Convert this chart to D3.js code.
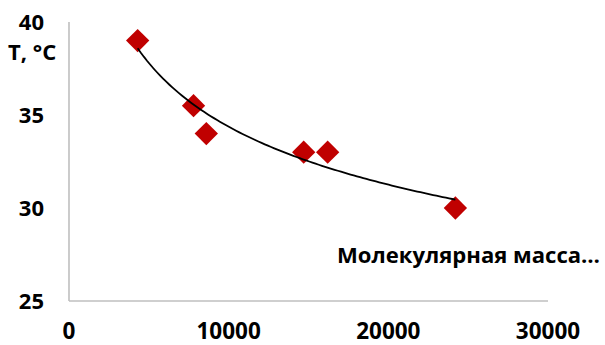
<!DOCTYPE html>
<html><head><meta charset="utf-8">
<script src="https://cdn.jsdelivr.net/npm/d3@7"></script>
<style>body{margin:0;background:#fff}svg{display:block}text{font-family:"Open Sans",sans-serif;font-weight:700;fill:#000}</style>
</head><body><svg id="c" width="605" height="345"></svg>
<script>
const massValues = [4300, 7800, 8600, 14700, 16200, 24200];
const tempValues = [39, 35.5, 34, 33, 33, 30];
const xTicks = [0, 10000, 20000, 30000];
const yTicks = [25, 30, 35, 40];
const yTitle = "T, °C";
const xTitle = "Молекулярная масса…";

const svg = d3.select("#c");
const x = d3.scaleLinear().domain([0, 30000]).range([69, 548]);
const y = d3.scaleLinear().domain([25, 40]).range([301, 22]);

// axes lines
svg.append("line").attr("x1", x(0)).attr("x2", x(0)).attr("y1", y(40)).attr("y2", y(25))
  .attr("stroke", "#bfbfbf").attr("stroke-width", 1.6);
svg.append("line").attr("x1", x(0)).attr("x2", x(30000)).attr("y1", y(25)).attr("y2", y(25))
  .attr("stroke", "#bfbfbf").attr("stroke-width", 1.6);

// tick labels
svg.selectAll(".yt").data(yTicks).join("text").attr("class", "yt")
  .attr("x", 44).attr("y", d => y(d)).attr("dy", "0.35em").attr("text-anchor", "end")
  .attr("font-size", 22).text(d => d);
svg.selectAll(".xt").data(xTicks).join("text").attr("class", "xt")
  .attr("x", d => x(d)).attr("y", 339).attr("text-anchor", "middle")
  .attr("font-size", 22.5).text(d => d);

// titles
svg.append("text").attr("x", 8).attr("y", 52).attr("dy", "0.35em").attr("font-size", 22).text(yTitle);
const tt = svg.append("text").attr("x", 337).attr("y", 255).attr("dy", "0.35em").attr("font-size", 21).text(xTitle);
const w = tt.node().getComputedTextLength();
tt.attr("font-size", 21 * 263 / w);

// power trendline fit
const lx = massValues.map(Math.log), ly = tempValues.map(Math.log);
const mx = d3.mean(lx), my = d3.mean(ly);
const b = d3.sum(lx.map((v, i) => (v - mx) * (ly[i] - my))) / d3.sum(lx.map(v => (v - mx) ** 2));
const a = my - b * mx;
const x0 = d3.min(massValues), x1 = d3.max(massValues);
const curve = d3.range(0, 101).map(i => { const xv = x0 + (x1 - x0) * i / 100; return [xv, Math.exp(a) * Math.pow(xv, b)]; });

// markers
const sym = d3.symbol().type(d3.symbolSquare).size(16.5 * 16.5);
svg.selectAll(".pt").data(massValues).join("path").attr("class", "pt")
  .attr("d", sym).attr("fill", "#c00000")
  .attr("transform", (d, i) => `translate(${x(d)},${y(tempValues[i])}) rotate(45)`);

svg.append("path").datum(curve).attr("fill", "none").attr("stroke", "#000").attr("stroke-width", 1.8)
  .attr("d", d3.line().x(d => x(d[0])).y(d => y(d[1])).curve(d3.curveLinear));
</script></body></html>
